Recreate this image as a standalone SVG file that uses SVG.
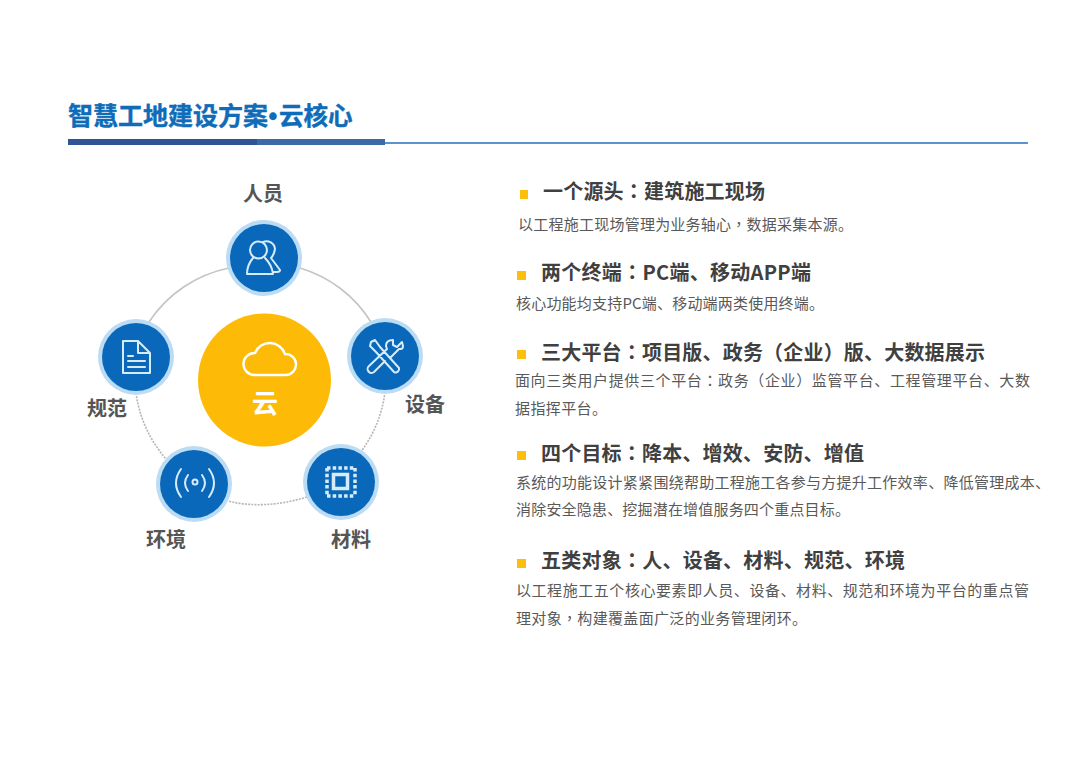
<svg xmlns="http://www.w3.org/2000/svg" width="1080" height="764" viewBox="0 0 1080 764">
<style>
text{font-family:"Noto Sans CJK SC","Liberation Sans",sans-serif}
.p{font-family:"Noto Sans CJK TC","Noto Sans CJK SC",sans-serif}
.t{font-size:25px;font-weight:700;fill:#0f6cb8;stroke:#0f6cb8;stroke-width:.4}
.l{font-size:20px;font-weight:700;fill:#555;text-anchor:middle}
.h{font-size:20px;font-weight:700;fill:#404040}
.b{font-size:15px;fill:#595959}
.halo{fill:#bcdcf3}
.disc{fill:#0a68ba}
.i{fill:none;stroke:#d7ecfa;stroke-width:2;stroke-linecap:round;stroke-linejoin:round}
.bul{fill:#fdbf0a}
.arc{fill:none;stroke:#c4c4c4;stroke-width:1.6}
.dot{stroke-dasharray:2 1.2;stroke:#b5b5b5}
</style>
<rect width="1080" height="764" fill="#fff"/>
<g id="header">
<text class="t" y="125"><tspan x="68">智慧工地建设方案</tspan><tspan x="268.500" font-family="Liberation Sans">•</tspan><tspan x="279" font-size="24.500">云核心</tspan></text>
<rect x="384" y="142" width="644" height="2" fill="#5b93cf"/>
<rect x="68" y="139" width="317" height="6" fill="#3e69a8"/>
<rect x="68" y="139" width="189" height="6" fill="#2f5597"/>
</g>
<g id="connectors">
<path class="arc" d="M229 268A126 126 0 0 0 149 322"/>
<path class="arc" d="M300 268A126 126 0 0 1 371 322"/>
<path class="arc dot" d="M385 392A126 126 0 0 1 360 453"/>
<path class="arc dot" d="M307 497Q264 510 228 501"/>
<path class="arc dot" d="M136 393A126 126 0 0 0 166 459"/>
</g>
<g id="node-center">
<circle cx="264.500" cy="380" r="66.500" fill="#fdbb08"/>
<path d="M254 375H286A10.500 10.500 0 0 0 285 354A16 16 0 0 0 255 353A11 11 0 0 0 254 375Z" fill="none" stroke="#fff" stroke-width="2.400"/>
<text x="265" y="413" font-size="26" font-weight="700" fill="#fff" text-anchor="middle">云</text>
</g>
<g id="node-person">
<circle class="halo" cx="264" cy="258" r="38"/><circle class="disc" cx="264" cy="258" r="34"/>
<circle class="i" cx="258.500" cy="250" r="8.500"/>
<path class="i" d="M253 258Q247 265 247 274H273Q272 265 265 258M263 242A8.500 8.500 0 0 1 275 249Q274 255 271 258L280 270Q280 272 277 272H274"/>
<text class="l" x="263" y="201">人员</text>
</g>
<g id="node-equipment">
<circle class="halo" cx="385" cy="356" r="38"/><circle class="disc" cx="385" cy="356" r="34"/>
<path class="i" d="M371 342L375 340L380 347L399 368A3.500 3.500 0 0 1 394 372L376 352L370 346ZM390 358L399 349Q405 350 402 342L397 347L393 345L393 340Q386 340 386 346L387 349L369 366A3.500 3.500 0 0 0 374 372L385 361"/>
<text class="l" x="425" y="412">设备</text>
</g>
<g id="node-material">
<circle class="halo" cx="341" cy="482" r="38"/><circle class="disc" cx="341" cy="482" r="34"/>
<rect x="333.500" y="474.500" width="14" height="14" fill="none" stroke="#d7ecfa" stroke-width="3.500"/>
<path d="M327 468H355M327 496H355M327 468V496M355 468V496" fill="none" stroke="#d7ecfa" stroke-width="3.500" stroke-dasharray="3.500 2.200"/>
<text class="l" x="351" y="547">材料</text>
</g>
<g id="node-environment">
<circle class="halo" cx="194" cy="484" r="38"/><circle class="disc" cx="194" cy="484" r="34"/>
<circle cx="195" cy="482" r="2.500" class="i"/>
<path class="i" d="M188 475Q182 483 188 491M202 475Q208 483 202 491M181 469Q171 483 181 497M209 469Q219 483 209 497"/>
<text class="l" x="166" y="547">环境</text>
</g>
<g id="node-standard">
<circle class="halo" cx="136" cy="357" r="38"/><circle class="disc" cx="136" cy="357" r="34"/>
<path class="i" d="M123 341H138L150 353V373H123ZM138 341V353H150M128 356H133M128 361H145M128 367H145"/>
<text class="l" x="107" y="416">规范</text>
</g>
<g id="text-1">
<rect class="bul" x="520" y="190" width="8" height="9"/>
<text class="h" x="543" y="199" textLength="222">一个源头<tspan class="p">：</tspan>建筑施工现场</text>
<text class="b" x="518" y="230" textLength="335">以工程施工现场管理为业务轴心<tspan class="p">，</tspan>数据采集本源。</text>
</g>
<g id="text-2">
<rect class="bul" x="517" y="271" width="9" height="9"/>
<text class="h" x="541" y="280" textLength="270">两个终端<tspan class="p">：</tspan>PC端、移动APP端</text>
<text class="b" x="516" y="309" textLength="308">核心功能均支持PC端、移动端两类使用终端。</text>
</g>
<g id="text-3">
<rect class="bul" x="517" y="350" width="9" height="9"/>
<text class="h" x="541" y="360" textLength="444">三大平台<tspan class="p">：</tspan>项目版、政务<tspan class="p">（</tspan>企业<tspan class="p">）</tspan>版、大数据展示</text>
<text class="b" x="515" y="386" textLength="515">面向三类用户提供三个平台<tspan class="p">：</tspan>政务<tspan class="p">（</tspan>企业<tspan class="p">）</tspan>监管平台、工程管理平台、大数</text>
<text class="b" x="515" y="414" textLength="92">据指挥平台。</text>
</g>
<g id="text-4">
<rect class="bul" x="517" y="451" width="9" height="9"/>
<text class="h" x="541" y="461" textLength="323">四个目标<tspan class="p">：</tspan>降本、增效、安防、增值</text>
<text class="b" x="516" y="488" textLength="534">系统的功能设计紧紧围绕帮助工程施工各参与方提升工作效率、降低管理成本、</text>
<text class="b" x="516" y="515" textLength="334">消除安全隐患、挖掘潜在增值服务四个重点目标。</text>
</g>
<g id="text-5">
<rect class="bul" x="517" y="559" width="9" height="9"/>
<text class="h" x="541" y="568" textLength="364">五类对象<tspan class="p">：</tspan>人、设备、材料、规范、环境</text>
<text class="b" x="516" y="596" textLength="513">以工程施工五个核心要素即人员、设备、材料、规范和环境为平台的重点管</text>
<text class="b" x="516" y="624" textLength="291">理对象<tspan class="p">，</tspan>构建覆盖面广泛的业务管理闭环。</text>
</g>
</svg>
